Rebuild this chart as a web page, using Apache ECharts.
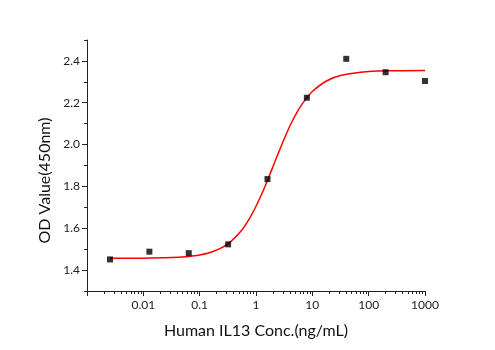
<!DOCTYPE html>
<html>
<head>
<meta charset="utf-8">
<script src="https://cdn.jsdelivr.net/npm/echarts@6/dist/echarts.min.js"></script>
<style>
  html, body { margin: 0; padding: 0; background: #fff; }
  #chart { width: 495px; height: 350px; }
</style>
</head>
<body>
<div id="chart"></div>
<script>
// measured points (5-fold dilution series)
const conc = [0.00256, 0.0128, 0.064, 0.32, 1.6, 8, 40, 200, 1000];
const od = [1.451, 1.488, 1.481, 1.523, 1.835, 2.224, 2.410, 2.346, 2.304];

// fitted curve
const fitConc = [0.00256, 0.01, 0.0316, 0.0562, 0.1, 0.178, 0.316, 0.562, 0.75, 1, 1.334, 1.778, 2.371, 3.162, 4.217, 5.623, 7.499, 10, 17.78, 31.62, 100, 316.2, 1000];
const fitOd = [1.456, 1.457, 1.460, 1.464, 1.472, 1.490, 1.525, 1.592, 1.642, 1.705, 1.778, 1.860, 1.945, 2.027, 2.102, 2.165, 2.215, 2.254, 2.304, 2.330, 2.349, 2.353, 2.354];

const yMajor = [1.4, 1.6, 1.8, 2.0, 2.2, 2.4];
const yMinor = [1.3, 1.5, 1.7, 1.9, 2.1, 2.3, 2.5];
const xMinor = [];
[0.001, 0.01, 0.1, 1, 10, 100].forEach(d => {
  for (let k = 2; k <= 9; k++) xMinor.push(+(d * k).toPrecision(3));
});

const chart = echarts.init(document.getElementById('chart'));
const font = 'Lato, "Open Sans", sans-serif';
const axisColor = '#222';

const option = {
  animation: false,
  grid: { left: 87, right: 70, top: 40, bottom: 59 },
  xAxis: [
    {
      type: 'log',
      logBase: 10,
      min: 0.001,
      max: 1000,
      splitNumber: 6,
      name: 'Human IL13 Conc.(ng/mL)',
      nameLocation: 'middle',
      nameGap: 32,
      nameTextStyle: { fontFamily: font, fontSize: 16, color: '#111' },
      axisLine: { lineStyle: { color: axisColor, width: 1 } },
      axisTick: { length: 5, lineStyle: { color: axisColor } },
      axisLabel: {
        fontFamily: font, fontSize: 12, color: '#222', margin: 8,
        formatter: v => (v < 0.002 ? '' : String(Number(v.toPrecision(3))))
      },
      splitLine: { show: false }
    },
    {
      type: 'log',
      logBase: 10,
      min: 0.001,
      max: 1000,
      position: 'bottom',
      axisLine: { show: false },
      axisTick: { customValues: xMinor, length: 3, lineStyle: { color: axisColor } },
      axisLabel: { show: false },
      splitLine: { show: false }
    }
  ],
  yAxis: [
    {
      type: 'value',
      min: 1.3,
      max: 2.5,
      interval: 0.1,
      name: 'OD Value(450nm)',
      nameLocation: 'middle',
      nameGap: 30,
      nameTextStyle: { fontFamily: font, fontSize: 16, color: '#111', padding: [0, 30, 0, 0] },
      axisLine: { show: true, lineStyle: { color: axisColor, width: 1 } },
      axisTick: { show: true, customValues: yMajor, length: 5, lineStyle: { color: axisColor } },
      axisLabel: {
        customValues: yMajor,
        fontFamily: font, fontSize: 12, color: '#222', margin: 7,
        formatter: v => v.toFixed(1)
      },
      splitLine: { show: false }
    },
    {
      type: 'value',
      min: 1.3,
      max: 2.5,
      interval: 0.1,
      position: 'left',
      axisLine: { show: false },
      axisTick: { show: true, customValues: yMinor, length: 3, lineStyle: { color: axisColor } },
      axisLabel: { show: false },
      splitLine: { show: false }
    }
  ],
  series: [
    {
      type: 'line',
      data: fitConc.map((x, i) => [x, fitOd[i]]),
      smooth: 0.3,
      showSymbol: false,
      lineStyle: { color: '#ff0000', width: 1.5 },
      z: 2
    },
    {
      type: 'scatter',
      data: conc.map((x, i) => [x, od[i]]),
      symbol: 'rect',
      symbolSize: 6,
      itemStyle: { color: '#000' },
      z: 3
    }
  ]
};

chart.setOption(option);
</script>
</body>
</html>
